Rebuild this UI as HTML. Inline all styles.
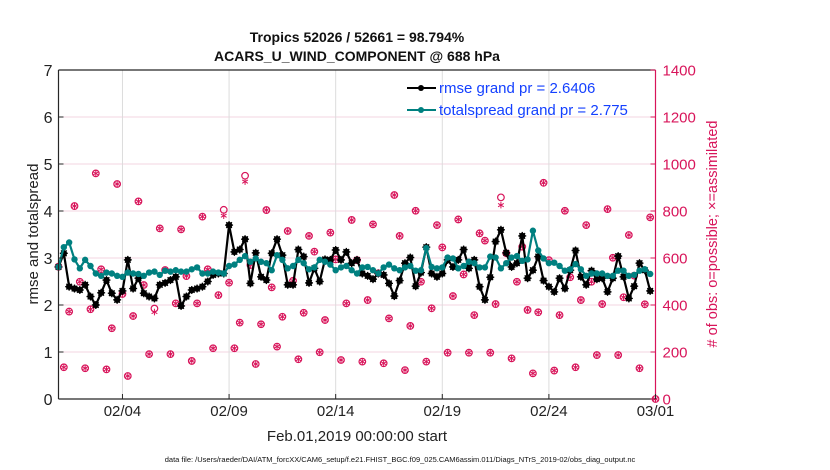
<!DOCTYPE html>
<html><head><meta charset="utf-8"><style>
body{margin:0;background:#fff;}
svg{display:block;font-family:"Liberation Sans",sans-serif;}
</style></head><body>
<svg id="chart" width="830" height="470" viewBox="0 0 830 470" xmlns="http://www.w3.org/2000/svg">
<rect width="830" height="470" fill="#fff"/>
<text x="357" y="42" text-anchor="middle" font-size="14" font-weight="bold" fill="#111">Tropics 52026 / 52661 = 98.794%</text>
<text x="357" y="61" text-anchor="middle" font-size="14" font-weight="bold" fill="#111">ACARS_U_WIND_COMPONENT @ 688 hPa</text>
<g id="grid"></g>
<g id="marks"></g>
<g id="axes"></g>
<text transform="translate(38,234) rotate(-90)" text-anchor="middle" font-size="15" fill="#222">rmse and totalspread</text>
<text transform="translate(717,234) rotate(-90)" text-anchor="middle" font-size="14.5" fill="#d8145a"># of obs: o=possible; ×=assimilated</text>
<text x="357" y="441" text-anchor="middle" font-size="15" fill="#222">Feb.01,2019 00:00:00 start</text>
<text x="400" y="462" text-anchor="middle" font-size="7.5" fill="#111">data file: /Users/raeder/DAI/ATM_forcXX/CAM6_setup/f.e21.FHIST_BGC.f09_025.CAM6assim.011/Diags_NTrS_2019-02/obs_diag_output.nc</text>
<g>
<line x1="407" y1="88" x2="436" y2="88" stroke="#000" stroke-width="2"/>
<circle cx="421" cy="88" r="3" fill="#000"/>
<text x="439" y="93" font-size="15" fill="#1440ff">rmse grand pr = 2.6406</text>
<line x1="407" y1="110" x2="436" y2="110" stroke="#008080" stroke-width="2"/>
<circle cx="421" cy="110" r="3" fill="#008080"/>
<text x="439" y="115" font-size="15" fill="#1440ff">totalspread grand pr = 2.775</text>
</g>
</svg>
<script>
const rmse=[2.81,3.10,2.39,2.35,2.32,2.43,2.18,2.00,2.26,2.53,2.25,2.11,2.30,2.96,2.35,2.57,2.25,2.18,2.14,2.43,2.47,2.53,2.60,1.98,2.18,2.32,2.35,2.39,2.50,
2.64,2.67,2.67,3.70,3.13,3.18,3.40,2.46,3.11,2.60,2.53,3.10,3.40,3.06,2.43,2.43,3.18,3.03,2.47,2.78,2.50,2.97,2.96,3.17,2.96,3.13,2.89,2.96,
2.67,2.62,2.55,2.67,2.64,2.46,2.19,2.52,2.89,3.01,2.40,2.69,3.23,2.67,2.60,2.67,2.96,2.81,2.96,3.18,2.78,2.96,2.39,2.11,2.59,3.35,3.60,3.11,
2.81,2.89,3.47,2.57,2.74,3.03,2.52,2.39,2.28,2.57,2.35,2.74,3.16,2.60,2.43,2.73,2.55,2.57,2.28,2.57,3.04,2.60,2.14,2.40,2.89,2.74,2.30];
const spread=[2.81,3.23,3.33,2.97,2.78,2.96,2.83,2.67,2.62,2.69,2.67,2.62,2.60,2.69,2.67,2.66,2.62,2.69,2.71,2.64,2.73,2.71,2.74,2.71,2.71,2.76,2.80,2.67,2.67,
2.71,2.69,2.67,2.83,2.86,2.96,3.04,2.92,2.99,2.92,2.89,2.74,3.06,2.96,2.78,2.83,2.96,2.89,2.76,2.80,2.96,2.92,2.86,2.74,2.80,2.83,2.74,2.67,
2.80,2.81,2.74,2.67,2.80,2.86,2.78,2.74,2.80,2.83,2.73,2.74,3.21,2.81,2.78,2.80,3.01,2.99,2.78,2.83,2.92,2.89,2.80,2.80,3.03,3.01,2.78,2.89,
3.01,3.04,2.94,2.97,3.58,3.16,2.99,2.89,2.90,2.83,2.73,2.76,2.87,2.76,2.62,2.67,2.67,2.67,2.62,2.62,2.73,2.73,2.62,2.64,2.73,2.76,2.66];
const possible=[563,135,372,821,499,131,382,960,552,126,301,915,447,98,353,841,485,191,385,726,549,191,407,722,523,162,407,776,552,
216,442,805,495,216,325,950,570,149,318,804,475,223,350,715,503,169,367,694,627,199,336,708,594,166,407,762,591,
159,421,743,535,152,343,868,694,123,311,801,499,159,386,740,645,197,438,764,530,197,357,705,674,197,404,858,620,
173,499,648,379,109,369,920,591,121,357,801,518,135,421,740,499,187,404,808,601,187,433,698,525,131,403,773,0];
const assimilated=[563,135,372,821,499,131,382,960,552,126,301,915,447,98,353,841,485,191,370,726,549,191,407,722,523,162,407,776,552,
216,442,780,495,216,325,925,570,149,318,804,475,223,350,715,503,169,367,694,627,199,336,708,594,166,407,762,591,
159,421,743,535,152,343,868,694,123,311,801,499,159,386,740,645,197,438,764,530,197,357,705,674,197,404,825,620,
173,499,648,379,109,369,920,591,121,357,801,518,135,421,740,499,187,404,808,601,187,433,698,525,131,403,773,0];
const dateTicks=["02/04","02/09","02/14","02/19","02/24","03/01"];
const tickDays=[3,8,13,18,23,28];
const yTicks=[0,1,2,3,4,5,6,7];
const y2Ticks=[0,200,400,600,800,1000,1200,1400];

const X0=58.5,X1=655.5,Y0=399,Y1=70,NDAYS=28;
const xs=d=>X0+(X1-X0)*d/NDAYS;
const xi=i=>xs(i*0.25);
const ys=v=>Y0-(Y0-Y1)*v/7;
const y2s=v=>Y0-(Y0-Y1)*v/1400;
const NS="http://www.w3.org/2000/svg";
function mk(tag,parent,at){const e=document.createElementNS(NS,tag);for(const k in at)e.setAttribute(k,at[k]);parent.appendChild(e);return e;}
const grid=document.getElementById('grid'),marks=document.getElementById('marks'),axes=document.getElementById('axes');

y2Ticks.forEach(v=>{if(v===0||v===1400)return;const l=mk('line',grid,{x1:X0,x2:X1,y1:y2s(v),y2:y2s(v),stroke:'#f3d4e2','stroke-width':1});

});
tickDays.forEach(d=>{if(d===28)return;const l=mk('line',grid,{x1:xs(d),x2:xs(d),y1:Y1,y2:Y0,stroke:'#dcdcdc','stroke-width':1});

});

assimilated.forEach((v,i)=>{const g=mk('g',marks,{stroke:'#d8145a','stroke-width':1,fill:'none'});


const cx=xi(i),cy=y2s(v),r=3.3;
for(let a=0;a<3;a++){const t=a*Math.PI/3+Math.PI/2;mk('line',g,{x1:cx-r*Math.cos(t),y1:cy-r*Math.sin(t),x2:cx+r*Math.cos(t),y2:cy+r*Math.sin(t)});}});
possible.forEach((v,i)=>{const c=mk('circle',marks,{cx:xi(i),cy:y2s(v),r:3.3,fill:'none',stroke:'#d8145a','stroke-width':1.2});

});

function series(arr,col,name,star){
 const p=mk('polyline',marks,{points:arr.map((v,i)=>xi(i)+','+ys(v)).join(' '),fill:'none',stroke:col,'stroke-width':2.2,'stroke-linejoin':'round'});
 
 
 arr.forEach((v,i)=>{const g=mk('g',marks,{});
 
 
 mk('circle',g,{cx:xi(i),cy:ys(v),r:3.2,fill:col});
 if(star){for(let a=0;a<4;a++){const t=a*Math.PI/4;mk('line',g,{x1:xi(i)-4*Math.cos(t),y1:ys(v)-4*Math.sin(t),x2:xi(i)+4*Math.cos(t),y2:ys(v)+4*Math.sin(t),stroke:col,'stroke-width':1.3});}}});
}
series(rmse,'#000','rmse',true);
series(spread,'#008080','totalspread',false);

const fr=[['line',{x1:X0,y1:Y1,x2:X0,y2:Y0,stroke:'#262626'},'left-axis'],['line',{x1:X0,y1:Y0,x2:X1,y2:Y0,stroke:'#262626'},'bottom-axis'],
['line',{x1:X0,y1:Y1,x2:X1,y2:Y1,stroke:'#262626'},'top-axis'],['line',{x1:X1,y1:Y1,x2:X1,y2:Y0,stroke:'#d8145a'},'right-axis']];
fr.forEach(f=>{const e=mk(f[0],axes,Object.assign({'stroke-width':1.2},f[1]));

});
yTicks.forEach(v=>{mk('line',axes,{x1:X0,x2:X0+5,y1:ys(v),y2:ys(v),stroke:'#262626'});
const t=mk('text',axes,{x:X0-6,y:ys(v)+6,'text-anchor':'end','font-size':16,fill:'#222'});t.textContent=v;

});
y2Ticks.forEach(v=>{mk('line',axes,{x1:X1-5,x2:X1,y1:y2s(v),y2:y2s(v),stroke:'#d8145a'});
const t=mk('text',axes,{x:X1+7,y:y2s(v)+5.5,'font-size':15,fill:'#d8145a'});t.textContent=v;

});
tickDays.forEach((d,k)=>{mk('line',axes,{x1:xs(d),x2:xs(d),y1:Y0,y2:Y0-5,stroke:'#262626'});
const t=mk('text',axes,{x:xs(d),y:416,'text-anchor':'middle','font-size':15,fill:'#222'});t.textContent=dateTicks[k];

});
</script>
</body></html>
